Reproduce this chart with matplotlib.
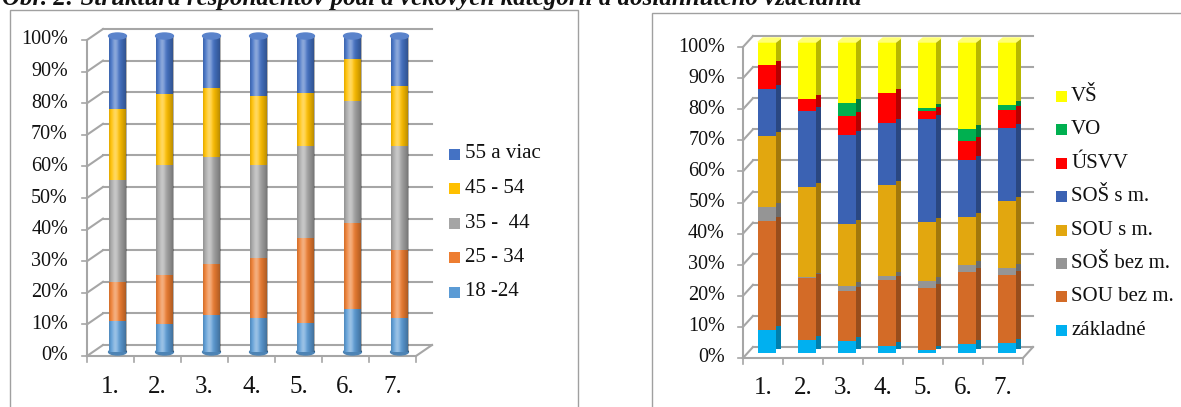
import numpy as np
import matplotlib
matplotlib.use('Agg')
import matplotlib.pyplot as plt
from matplotlib import transforms as mtrans
from matplotlib.patches import Rectangle, Ellipse, Polygon
from matplotlib.colors import to_rgb

plt.rcParams['font.family'] = ['Liberation Serif', 'DejaVu Serif']

# ---------------- data ----------------
title = "Obr. 2: Štruktúra respondentov podľa vekových kategórií a dosiahnutého vzdelania"
categories = ['1.', '2.', '3.', '4.', '5.', '6.', '7.']
yticks = [0, 10, 20, 30, 40, 50, 60, 70, 80, 90, 100]

age_labels = ['18 -24', '25 - 34', '35 -  44', '45 - 54', '55 a viac']
age_18_24 = [9.7, 8.8, 11.8, 10.9, 9.1, 13.7, 10.9]
age_25_34 = [12.6, 15.6, 16.2, 18.9, 27.1, 27.0, 21.3]
age_35_44 = [32.2, 34.9, 33.7, 29.5, 29.1, 38.8, 33.1]
age_45_54 = [22.4, 22.5, 22.0, 21.6, 16.8, 13.1, 18.9]
age_55_plus = [23.1, 18.2, 16.3, 19.1, 17.9, 7.4, 15.8]
age_colors = ['#5B9BD5', '#ED7D31', '#A5A5A5', '#FFC000', '#4472C4']

edu_labels = ['základné', 'SOU bez m.', 'SOŠ bez m.', 'SOU s m.', 'SOŠ s m.', 'ÚSVV', 'VO', 'VŠ']
edu_zakladne = [7.5, 4.1, 3.8, 2.4, 1.1, 3.0, 3.2]
edu_sou_bez = [34.9, 20.0, 16.0, 21.2, 19.8, 23.1, 22.0]
edu_sos_bez = [4.6, 0.4, 1.7, 1.3, 2.2, 2.3, 2.2]
edu_sou_s = [22.7, 28.8, 20.1, 29.0, 19.0, 15.4, 21.4]
edu_sos_s = [15.3, 24.5, 28.4, 19.9, 33.2, 18.2, 23.6]
edu_usvv = [7.5, 4.0, 6.2, 9.9, 2.5, 6.1, 5.7]
edu_vo = [0.0, 0.0, 4.3, 0.0, 1.1, 4.0, 1.5]
edu_vs = [7.5, 18.2, 19.5, 16.3, 21.1, 27.9, 20.4]
edu_colors = ['#00B0F0', '#D36B27', '#959595', '#E2A70F', '#3B62B3', '#FF0000', '#00B050', '#FFFF00']

age_series = [age_18_24, age_25_34, age_35_44, age_45_54, age_55_plus]
edu_series = [edu_zakladne, edu_sou_bez, edu_sos_bez, edu_sou_s, edu_sos_s, edu_usvv, edu_vo, edu_vs]

# ---------------- figure ----------------
W, H = 1181, 407
fig = plt.figure(figsize=(W / 100, H / 100), dpi=100)
GRID = '#A6A6A6'
IDT = mtrans.IdentityTransform()


def px_axes(left, right, y0, y100):
    ax = fig.add_axes([left / W, 1 - y0 / H, (right - left) / W, (y0 - y100) / H])
    ax.set_axis_off()
    return ax


def off(ax, dx, dy):
    return ax.transData + mtrans.Affine2D().translate(dx, dy)


def shade(c, f):
    r, g, b = to_rgb(c)
    return (r * f, g * f, b * f)


def lighten(c, f):
    r, g, b = to_rgb(c)
    return (r + (1 - r) * f, g + (1 - g) * f, b + (1 - b) * f)


def draw_frame(ax, n, fdx, fdy, bdx, bdy, ylab_gap, xlab_gap, fs_y, fs_x):
    ax.set_xlim(-0.5, n - 0.5)
    ax.set_ylim(0, 100)
    tf = off(ax, fdx, fdy)
    tb = off(ax, bdx, bdy)
    x0, x1 = -0.5, n - 0.5
    for v in yticks:
        ax.plot([x0, x1], [v, v], transform=tb, color=GRID, lw=1.5, clip_on=False, zorder=0)
        pf = tf.transform((x0, v))
        pb = tb.transform((x0, v))
        ax.plot([pf[0], pb[0]], [pf[1], pb[1]], transform=IDT, color=GRID, lw=1.5,
                clip_on=False, zorder=0)
        ax.plot([pf[0] - 5, pf[0]], [pf[1], pf[1]], transform=IDT, color=GRID, lw=1.2,
                clip_on=False, zorder=0)
        ax.text(x0, v, f'{v}%', transform=off(ax, fdx - ylab_gap, fdy), ha='right',
                va='center', fontsize=fs_y, color='#111111')
    # front y axis
    ax.plot([x0, x0], [0, 100], transform=tf, color=GRID, lw=1.5, clip_on=False, zorder=1)
    # floor front edge and right edge
    ax.plot([x0, x1], [0, 0], transform=tf, color=GRID, lw=1.5, clip_on=False, zorder=1)
    pf = tf.transform((x1, 0))
    pb = tb.transform((x1, 0))
    ax.plot([pf[0], pb[0]], [pf[1], pb[1]], transform=IDT, color=GRID, lw=1.5,
            clip_on=False, zorder=1)
    for i in range(n + 1):
        p = tf.transform((x0 + i, 0))
        ax.plot([p[0], p[0]], [p[1], p[1] - 6], transform=IDT, color=GRID, lw=1.2,
                clip_on=False, zorder=1)
    for i, c in enumerate(categories):
        ax.text(i, 0, c, transform=off(ax, fdx, fdy - xlab_gap), ha='center', va='center',
                fontsize=fs_x, color='#111111')


def draw_legend(labels, colors, sq_x, txt_x, y_top, step, fs):
    for k, (lab, col) in enumerate(zip(labels[::-1], colors[::-1])):
        yc = y_top + k * step
        fig.add_artist(Rectangle(((sq_x) / W, 1 - (yc + 5.5) / H), 11 / W, 11 / H,
                                 transform=fig.transFigure, color=col, lw=0))
        fig.text(txt_x / W, 1 - yc / H, lab, ha='left', va='center', fontsize=fs,
                 color='#111111')


n = len(categories)
x = np.arange(n)

# ---------------- left chart (cylinders) ----------------
ax1 = px_axes(94, 94 + 7 * 47, 352, 36)
draw_frame(ax1, n, -7, -4, 9, 7, 19, 31, 14.5, 18)
w1 = 0.38
bottom = np.zeros(n)
for vals, col in zip(age_series, age_colors):
    ax1.bar(x, vals, width=w1, bottom=bottom, color=col, zorder=3, clip_on=False)
    bottom += np.array(vals)

t = np.linspace(0, 1, 64)
hi = np.zeros((1, 64, 4))
hi[..., :3] = 1.0
hi[0, :, 3] = 0.38 * np.exp(-((t - 0.35) / 0.18) ** 2)
dk = np.zeros((1, 64, 4))
dk[0, :, 3] = 0.32 * np.clip((t - 0.45) / 0.55, 0, 1) ** 1.5 + 0.12 * np.clip((0.12 - t) / 0.12, 0, 1)
cap_h = 6 / 3.16
for xi, top_v in zip(x, bottom):
    ext = [xi - w1 / 2, xi + w1 / 2, 0, top_v]
    ax1.imshow(hi, extent=ext, aspect='auto', zorder=4, interpolation='bilinear', clip_on=False)
    ax1.imshow(dk, extent=ext, aspect='auto', zorder=4, interpolation='bilinear', clip_on=False)
    ax1.add_patch(Ellipse((xi, 0), w1, cap_h, color=shade(age_colors[0], 0.85), zorder=2,
                          clip_on=False))
    ax1.add_patch(Ellipse((xi, top_v), w1, cap_h, color=lighten(age_colors[-1], 0.12), zorder=5,
                          clip_on=False))
ax1.set_xlim(-0.5, n - 0.5)
ax1.set_ylim(0, 100)

# ---------------- right chart (prisms) ----------------
ax2 = px_axes(747, 747 + 7 * 40, 353, 42)
draw_frame(ax2, n, -4, -5, 6, 6, 18, 30, 14.5, 18)
w2 = 0.45
DX, DY = 5, 4
bottom = np.zeros(n)
for vals, col in zip(edu_series, edu_colors):
    ax2.bar(x, vals, width=w2, bottom=bottom, color=shade(col, 0.72), zorder=2,
            transform=off(ax2, DX, DY), clip_on=False)
    ax2.bar(x, vals, width=w2, bottom=bottom, color=col, zorder=3, clip_on=False)
    bottom += np.array(vals)
for xi, top_v in zip(x, bottom):
    a = ax2.transData.transform((xi - w2 / 2, top_v))
    b = ax2.transData.transform((xi + w2 / 2, top_v))
    poly = Polygon([a, b, (b[0] + DX, b[1] + DY), (a[0] + DX, a[1] + DY)], closed=True,
                   transform=IDT, color=lighten(edu_colors[-1], 0.45), zorder=4, clip_on=False)
    ax2.add_patch(poly)
ax2.set_xlim(-0.5, n - 0.5)
ax2.set_ylim(0, 100)

# ---------------- legends ----------------
draw_legend(age_labels, age_colors, 449, 465, 154, 34.5, 15)
draw_legend(edu_labels, edu_colors, 1056, 1071, 96.5, 33.4, 15)

# ---------------- frames and title ----------------
fig.add_artist(Rectangle((10 / W, -0.02), (578 - 10) / W, 1 - 10 / H + 0.02,
                         transform=fig.transFigure, fill=False, ec='#A0A0A0', lw=1))
fig.add_artist(Rectangle((652 / W, -0.02), (1200 - 652) / W, 1 - 13 / H + 0.02,
                         transform=fig.transFigure, fill=False, ec='#A0A0A0', lw=1))
fig.text(2 / W, 1 - 5 / H, title, ha='left', va='baseline', fontsize=18,
         fontweight='bold', style='italic', color='#111111')

fig.savefig('out.png', dpi=100)
